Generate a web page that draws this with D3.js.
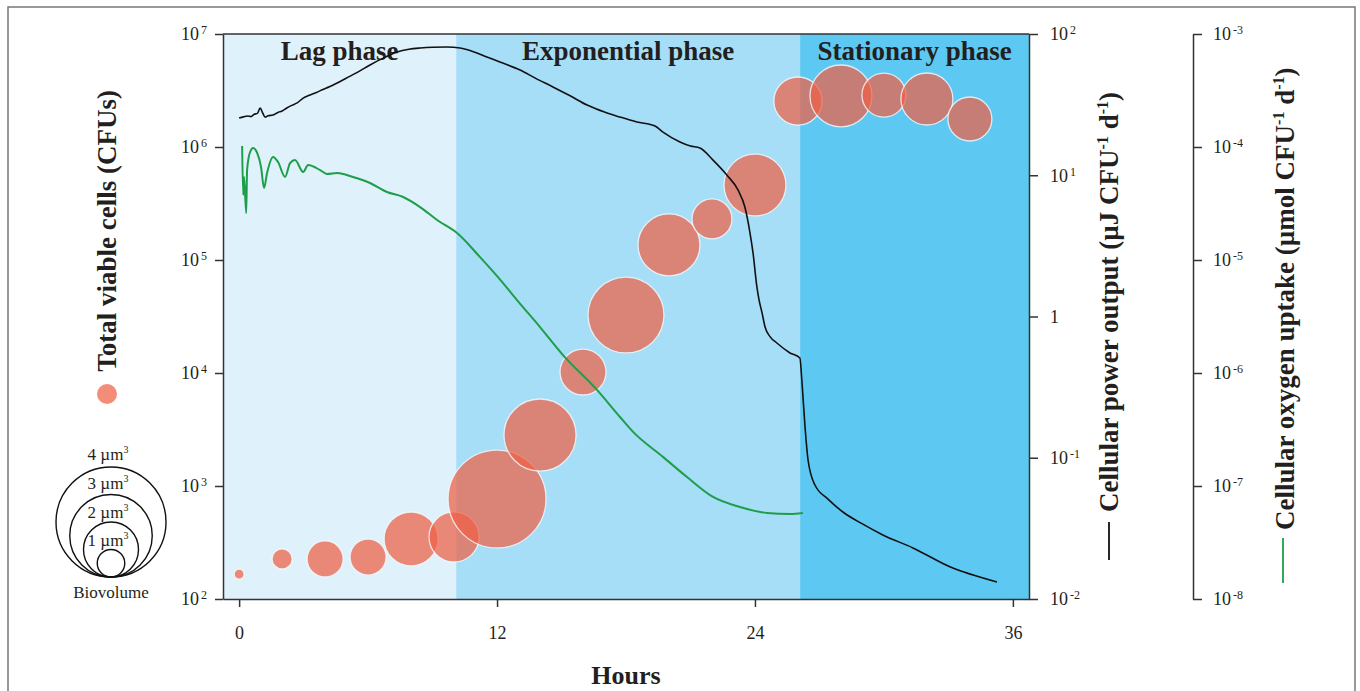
<!DOCTYPE html>
<html><head><meta charset="utf-8">
<script src="https://cdn.jsdelivr.net/npm/d3@7"></script>
<style>
body{margin:0;background:#fff}
svg{display:block}
text{font-family:"Liberation Serif","Times New Roman",serif;fill:#231f20}
</style>
</head><body>
<svg id="chart" width="1360" height="691"></svg>
<script>
// ---------------- data ----------------
const hourTicks = [0, 12, 24, 36];
const cellTicks = [1e2, 1e3, 1e4, 1e5, 1e6, 1e7];
const powerTicks = [1e-2, 1e-1, 1, 1e1, 1e2];
const o2Ticks = [1e-8, 1e-7, 1e-6, 1e-5, 1e-4, 1e-3];

const phaseNames = ["Lag phase", "Exponential phase", "Stationary phase"];
const phaseStart = [-0.75, 10.1, 26.1];
const phaseEnd = [10.1, 26.1, 36.75];
const phaseColors = ["#dff1fb", "#a6ddf7", "#5dc8f2"];

const sampleHours = [0, 2, 4, 6, 8, 10, 12, 14, 16, 18, 20, 22, 24, 26, 28, 30, 32, 34];
const viableCells = [166, 226, 226, 235, 340, 354, 767, 2826, 10200, 32600, 136000, 231000, 461000, 2550000, 2830000, 2880000, 2660000, 1770000];
const biovolume = [0.36, 0.73, 1.31, 1.31, 1.96, 1.82, 3.56, 2.62, 1.67, 2.76, 2.25, 1.45, 2.25, 1.75, 2.25, 1.6, 1.89, 1.6];

const powerHours = [0, 0.2, 0.4, 0.55, 0.7, 0.85, 0.98, 1.1, 1.21, 1.35, 1.58, 1.8, 2.0, 2.2, 2.4, 2.7, 2.98, 3.3, 3.6, 3.9, 4.2, 4.56, 5.0, 5.5, 6.09, 6.7, 7.35, 7.9, 8.42, 9.0, 9.67, 10.28, 10.9, 11.53, 12.3, 13.07, 13.8, 14.6, 15.4, 16.19, 17.0, 17.72, 18.51, 19.35, 19.72, 20.51, 21.0, 21.44, 22.05, 22.7, 23.21, 23.53, 23.77, 23.91, 24.09, 24.19, 24.33, 24.47, 24.7, 25.02, 25.63, 26.09, 26.19, 26.33, 26.47, 26.79, 27.4, 28.09, 29.0, 29.95, 31.35, 33.07, 35.26];
const powerValues = [25.4, 25.9, 26.3, 26.0, 27.0, 27.4, 29.9, 27.5, 25.8, 26.4, 26.7, 27.8, 28.5, 29.8, 31.0, 32.5, 35.2, 37.0, 38.6, 40.5, 42.3, 45.0, 48.8, 53.5, 60.4, 67.5, 74.6, 78.0, 79.6, 80.6, 80.9, 79.6, 75.0, 68.7, 62.0, 55.6, 48.5, 42.2, 36.5, 31.4, 28.0, 25.8, 23.8, 22.3, 20.2, 17.2, 16.1, 15.6, 12.8, 10.0, 7.87, 5.96, 3.90, 2.82, 1.62, 1.31, 1.06, 0.843, 0.72, 0.649, 0.552, 0.508, 0.338, 0.165, 0.0964, 0.0641, 0.051, 0.0413, 0.034, 0.0284, 0.0230, 0.0169, 0.0132];

const o2Hours = [0.14, 0.19, 0.23, 0.33, 0.37, 0.51, 0.65, 0.84, 1.02, 1.16, 1.30, 1.58, 1.81, 2.14, 2.37, 2.60, 2.98, 3.21, 3.77, 4.09, 4.56, 5.30, 6.09, 6.88, 7.63, 8.42, 9.21, 10.14, 11.21, 12.28, 12.93, 14.0, 15.07, 16.65, 17.72, 18.33, 19.72, 20.84, 22.05, 23.30, 24.56, 25.63, 26.23];
const o2Values = [1.02e-4, 3.76e-5, 5.43e-5, 2.61e-5, 6.25e-5, 9.03e-5, 9.8e-5, 8.85e-5, 6.65e-5, 4.34e-5, 5.89e-5, 8.17e-5, 7.36e-5, 5.43e-5, 7.21e-5, 7.67e-5, 6.01e-5, 6.93e-5, 6.25e-5, 5.77e-5, 5.89e-5, 5.43e-5, 4.80e-5, 4.00e-5, 3.61e-5, 2.94e-5, 2.26e-5, 1.73e-5, 1.06e-5, 6.25e-6, 4.42e-6, 2.55e-6, 1.44e-6, 7.08e-7, 4.08e-7, 3.01e-7, 1.81e-7, 1.20e-7, 8.0e-8, 6.52e-8, 5.77e-8, 5.65e-8, 5.77e-8];

const legendVolumes = [4, 3, 2, 1];

// ---------------- layout ----------------
const svg = d3.select("#chart");
const L = 223, R = 1029, T = 34, B = 599;
const x = d3.scaleLinear().domain([-0.75, 36.75]).range([L, R]);
const yCells = d3.scaleLog().domain([1e2, 1e7]).range([B, T]);
const yPower = d3.scaleLog().domain([1e-2, 1e2]).range([B, T]);
const yO2 = d3.scaleLog().domain([1e-8, 1e-3]).range([B, T]);
const rScale = d3.scaleLinear().domain([0, 4]).range([0, 55]);
const axisColor = "#333";
const bubbleFill = "rgb(239,95,69)";
const bubbleOpacity = 0.72;

// outer frame
svg.append("rect").attr("x", 8).attr("y", 7).attr("width", 1347).attr("height", 720)
  .attr("fill", "none").attr("stroke", "#777").attr("stroke-width", 1.5);

// phase backgrounds
const phases = phaseNames.map((n, i) => ({name: n, s: phaseStart[i], e: phaseEnd[i], c: phaseColors[i]}));
svg.append("g").selectAll("rect").data(phases).join("rect")
  .attr("x", d => x(d.s)).attr("width", d => x(d.e) - x(d.s))
  .attr("y", T).attr("height", B - T).attr("fill", d => d.c);

svg.append("g").selectAll("text").data(phases).join("text")
  .attr("x", d => (x(d.s) + x(d.e)) / 2).attr("y", 60)
  .attr("text-anchor", "middle").attr("font-size", "27px").attr("font-weight", "bold")
  .text(d => d.name);

// bubbles
const bubbles = sampleHours.map((h, i) => ({h, c: viableCells[i], v: biovolume[i]}));
svg.append("g").selectAll("circle").data(bubbles).join("circle")
  .attr("cx", d => x(d.h)).attr("cy", d => yCells(d.c)).attr("r", d => rScale(d.v))
  .attr("fill", bubbleFill).attr("fill-opacity", bubbleOpacity)
  .attr("stroke", "#f4fbff").attr("stroke-opacity", 0.8).attr("stroke-width", 1.3);

// lines
const powerData = powerHours.map((h, i) => [h, powerValues[i]]);
const o2Data = o2Hours.map((h, i) => [h, o2Values[i]]);
svg.append("path").datum(o2Data)
  .attr("d", d3.line().x(d => x(d[0])).y(d => yO2(d[1])).curve(d3.curveMonotoneX))
  .attr("fill", "none").attr("stroke", "#1f9e49").attr("stroke-width", 2);
svg.append("path").datum(powerData)
  .attr("d", d3.line().x(d => x(d[0])).y(d => yPower(d[1])).curve(d3.curveMonotoneX))
  .attr("fill", "none").attr("stroke", "#111").attr("stroke-width", 1.6);

// top frame line
svg.append("line").attr("x1", L).attr("x2", R).attr("y1", T).attr("y2", T)
  .attr("stroke", axisColor).attr("stroke-width", 1.5);

// axes helpers
function supText(sel, showOne) {
  sel.each(function(d) {
    const t = d3.select(this);
    t.text(null);
    const e = Math.round(Math.log10(d));
    if (e === 0 && showOne) { t.append("tspan").text("1"); return; }
    t.append("tspan").text("10");
    t.append("tspan").attr("dx", 2).attr("dy", "-0.5em").attr("font-size", "12px").text(e);
  });
}
function styleAxis(g) {
  g.selectAll("path,line").attr("stroke", axisColor).attr("stroke-width", 1.5);
  g.selectAll("text").attr("font-size", "18px").attr("fill", "#231f20")
    .attr("font-family", '"Liberation Serif","Times New Roman",serif');
}

const gLeft = svg.append("g").attr("transform", `translate(${L},0)`)
  .call(d3.axisLeft(yCells).tickValues(cellTicks).tickSize(8).tickSizeOuter(0).tickPadding(8));
styleAxis(gLeft); gLeft.selectAll(".tick text").call(supText, false);

const gPower = svg.append("g").attr("transform", `translate(${R},0)`)
  .call(d3.axisRight(yPower).tickValues(powerTicks).tickSize(9).tickSizeOuter(0).tickPadding(12));
styleAxis(gPower); gPower.selectAll(".tick text").call(supText, true);

const gO2 = svg.append("g").attr("transform", `translate(1193,0)`)
  .call(d3.axisRight(yO2).tickValues(o2Ticks).tickSize(9).tickSizeOuter(0).tickPadding(11));
styleAxis(gO2); gO2.selectAll(".tick text").call(supText, false);

const gBottom = svg.append("g").attr("transform", `translate(0,${B})`)
  .call(d3.axisBottom(x).tickValues(hourTicks).tickSize(8).tickSizeOuter(0).tickPadding(19).tickFormat(d3.format("d")));
styleAxis(gBottom);

// axis titles
svg.append("text").attr("x", 626).attr("y", 684).attr("text-anchor", "middle")
  .attr("font-size", "26px").attr("font-weight", "bold").text("Hours");

svg.append("text").attr("transform", "translate(116,231) rotate(-90)")
  .attr("text-anchor", "middle").attr("font-size", "27px").attr("font-weight", "bold")
  .text("Total viable cells (CFUs)");

function supTitle(tx, ty, parts) {
  const t = svg.append("text").attr("transform", `translate(${tx},${ty}) rotate(-90)`)
    .attr("text-anchor", "start").attr("font-size", "27px").attr("font-weight", "bold");
  parts.forEach(p => {
    if (p.sup) t.append("tspan").attr("dy", "-10").attr("font-size", "16px").text(p.t);
    else t.append("tspan").attr("dy", p.back ? "10" : null).text(p.t);
  });
}
supTitle(1118, 512, [{t: "Cellular power output (µJ CFU"}, {t: "-1", sup: true}, {t: " d", back: true}, {t: "-1", sup: true}, {t: ")", back: true}]);
supTitle(1294, 530, [{t: "Cellular oxygen uptake (µmol CFU"}, {t: "-1", sup: true}, {t: " d", back: true}, {t: "-1", sup: true}, {t: ")", back: true}]);

// legend keys for lines
svg.append("line").attr("x1", 1109).attr("x2", 1109).attr("y1", 522).attr("y2", 560)
  .attr("stroke", "#111").attr("stroke-width", 1.8);
svg.append("line").attr("x1", 1283).attr("x2", 1283).attr("y1", 538).attr("y2", 583)
  .attr("stroke", "#1f9e49").attr("stroke-width", 1.8);

// legend dot
svg.append("circle").attr("cx", 107).attr("cy", 394).attr("r", 10)
  .attr("fill", bubbleFill).attr("fill-opacity", bubbleOpacity);

// biovolume legend
const legBase = 577, legX = 111;
svg.append("g").selectAll("circle").data(legendVolumes).join("circle")
  .attr("cx", legX).attr("cy", d => legBase - rScale(d)).attr("r", d => rScale(d))
  .attr("fill", "none").attr("stroke", "#111").attr("stroke-width", 1.4);
const legLabelY = [460, 489, 518, 546];
const gl = svg.append("g").selectAll("text").data(legendVolumes).join("text")
  .attr("x", legX - 3).attr("y", (d, i) => legLabelY[i]).attr("text-anchor", "middle")
  .attr("font-size", "17px");
gl.append("tspan").text(d => d + " µm");
gl.append("tspan").attr("dy", -7).attr("font-size", "10px").text("3");
svg.append("text").attr("x", legX).attr("y", 598).attr("text-anchor", "middle")
  .attr("font-size", "17px").text("Biovolume");
</script>
</body></html>
